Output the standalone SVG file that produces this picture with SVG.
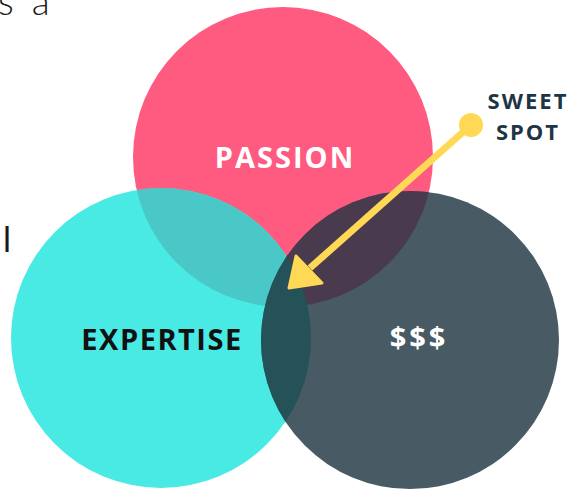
<svg xmlns="http://www.w3.org/2000/svg" width="582" height="491" viewBox="0 0 582 491">
<style>
.lbl{font-family:"Open Sans","Liberation Sans",sans-serif;font-weight:700;text-anchor:middle}
.bg{font-family:Lato,"Liberation Sans",sans-serif;fill:#1a1a1a}
</style>
<defs>
<clipPath id="cPink"><circle cx="283" cy="157" r="150"/></clipPath>
<clipPath id="cDark"><circle cx="410" cy="340" r="149"/></clipPath>
</defs>
<rect width="582" height="491" fill="#fff"/>
<text class="bg" x="-2" y="15" font-size="37" font-weight="300" letter-spacing="4">s a</text>
<text class="bg" x="3" y="252" font-size="34" font-weight="400">l</text>
<g id="passion"><circle cx="283" cy="157" r="150" fill="#FF5A80"/></g>
<g id="expertise"><circle cx="161" cy="338" r="150" fill="#4AEAE4"/></g>
<g id="money"><circle cx="410" cy="340" r="149" fill="#485A64"/></g>
<g id="overlaps">
<circle cx="161" cy="338" r="150" fill="#4AC8C8" clip-path="url(#cPink)"/>
<g clip-path="url(#cDark)">
<circle cx="283" cy="157" r="150" fill="#4A3A4E"/>
<circle cx="161" cy="338" r="150" fill="#245258"/>
</g>
</g>
<text class="lbl" x="285" y="168" font-size="29" fill="#fff" letter-spacing="2">PASSION</text>
<text class="lbl" x="162" y="350" font-size="29" fill="#111" letter-spacing="1.5">EXPERTISE</text>
<text class="lbl" x="419" y="348" font-size="29" fill="#fff" letter-spacing="3">$$$</text>
<g id="sweet-spot">
<text class="lbl" x="528" y="109" font-size="22" fill="#1E3545" letter-spacing="2">SWEET</text>
<text class="lbl" x="528" y="140" font-size="22" fill="#1E3545" letter-spacing="2">SPOT</text>
</g>
<g id="connectors">
<line x1="471" y1="125" x2="310" y2="268" stroke="#FFD955" stroke-width="7"/>
<circle cx="471" cy="125" r="12" fill="#FFD955"/>
<polygon points="289,288 296,256 322,283" fill="#FFD955" stroke="#FFD955" stroke-width="3" stroke-linejoin="round"/>
</g>
</svg>
